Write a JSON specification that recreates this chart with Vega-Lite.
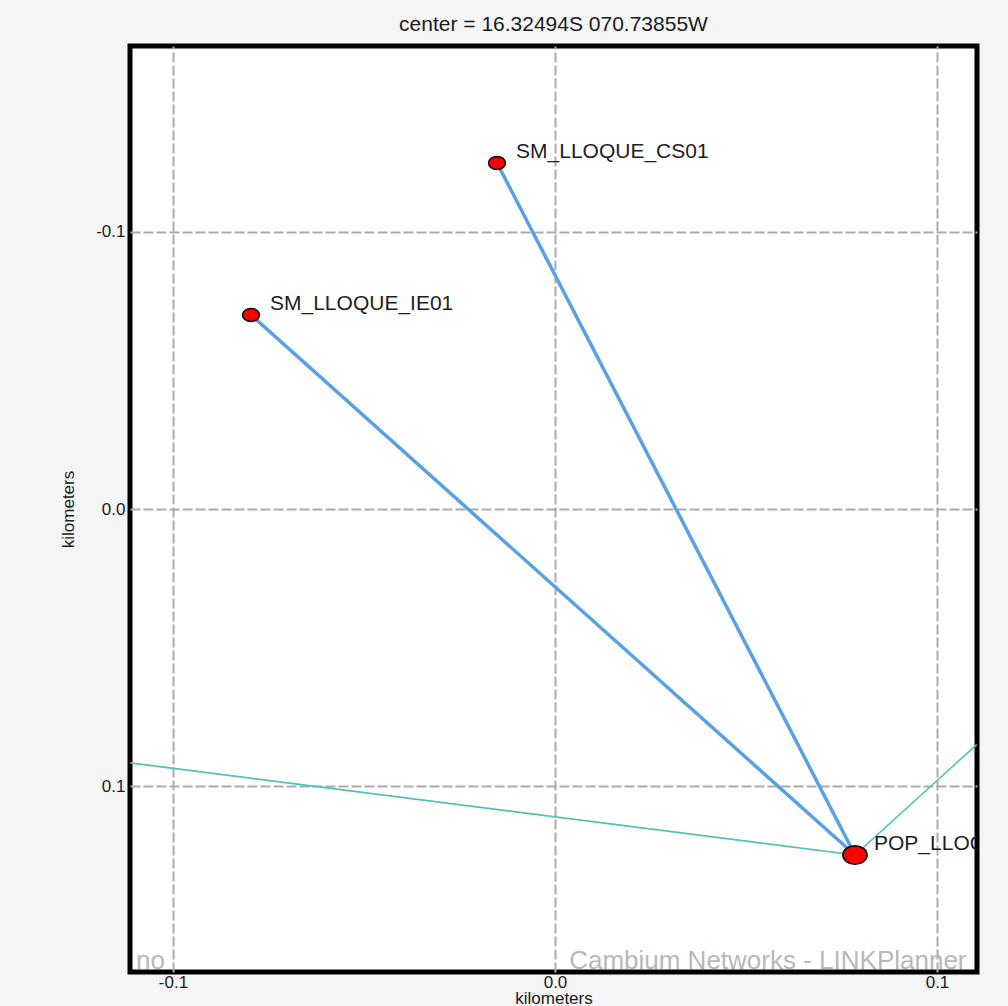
{
  "$schema": "https://vega.github.io/schema/vega-lite/v6.json",
  "autosize": "none",
  "width": 847,
  "height": 926,
  "padding": {"left": 130, "top": 46, "right": 31, "bottom": 34},
  "background": "#f5f5f5",
  "title": {
    "text": "center = 16.32494S 070.73855W",
    "font": "Liberation Sans",
    "fontSize": 21,
    "fontWeight": "normal",
    "color": "#1a1a1a",
    "anchor": "middle",
    "offset": 11
  },
  "config": {
    "view": {"stroke": "#000000", "strokeWidth": 5, "fill": "#ffffff"},
    "axis": {
      "grid": true,
      "gridColor": "#ababab",
      "gridWidth": 2,
      "gridDash": [10, 3],
      "domain": false,
      "ticks": false,
      "labelFont": "Liberation Sans",
      "labelFontSize": 17,
      "labelColor": "#1a1a1a",
      "titleFont": "Liberation Sans",
      "titleFontSize": 17,
      "titleFontWeight": "normal",
      "titleColor": "#1a1a1a"
    }
  },
  "datasets": {
    "links": [
      {"link": "CS01", "kind": "pmp", "seq": 1, "x": 0.07853, "y": 0.12468},
      {"link": "CS01", "kind": "pmp", "seq": 2, "x": -0.01518, "y": -0.12468},
      {"link": "IE01", "kind": "pmp", "seq": 1, "x": 0.07853, "y": 0.12468},
      {"link": "IE01", "kind": "pmp", "seq": 2, "x": -0.07958, "y": -0.06991},
      {"link": "west", "kind": "ptp", "seq": 1, "x": 0.07853, "y": 0.12468},
      {"link": "west", "kind": "ptp", "seq": 2, "x": -0.1112, "y": 0.0915},
      {"link": "east", "kind": "ptp", "seq": 1, "x": 0.07853, "y": 0.12468},
      {"link": "east", "kind": "ptp", "seq": 2, "x": 0.1104, "y": 0.0849}
    ],
    "nodes": [
      {"name": "SM_LLOQUE_CS01", "kind": "SM", "x": -0.01518, "y": -0.12468},
      {"name": "SM_LLOQUE_IE01", "kind": "SM", "x": -0.07958, "y": -0.06991},
      {"name": "POP_LLOQUE", "kind": "POP", "x": 0.07853, "y": 0.12468}
    ],
    "marks": [
      {"text": "Cambium Networks - LINKPlanner", "side": "right", "x": 0.0037, "y": 0.1656},
      {"text": "no", "side": "left", "x": -0.1021, "y": 0.1656}
    ]
  },
  "encoding": {
    "x": {
      "field": "x",
      "type": "quantitative",
      "scale": {"domain": [-0.11126, 0.11047], "nice": false, "zero": false},
      "axis": {
        "title": "kilometers",
        "values": [-0.1, 0, 0.1],
        "labelExpr": "replace(format(datum.value, '.1f'), '\u2212', '-')",
        "labelPadding": 2,
        "titleY": 31,
        "titleBaseline": "alphabetic"
      }
    },
    "y": {
      "field": "y",
      "type": "quantitative",
      "scale": {"domain": [-0.16685, 0.16685], "nice": false, "zero": false, "reverse": true},
      "axis": {
        "title": "kilometers",
        "values": [-0.1, 0, 0.1],
        "labelExpr": "replace(format(datum.value, '.1f'), '\u2212', '-')",
        "labelPadding": 5,
        "titlePadding": 18
      }
    }
  },
  "layer": [
    {
      "data": {"name": "marks"},
      "transform": [{"filter": "datum.side == 'right'"}],
      "mark": {"type": "text", "font": "Liberation Sans", "fontSize": 26, "color": "#b8b8b8", "align": "left", "baseline": "alphabetic", "clip": true},
      "encoding": {"text": {"field": "text"}}
    },
    {
      "data": {"name": "marks"},
      "transform": [{"filter": "datum.side == 'left'"}],
      "mark": {"type": "text", "font": "Liberation Sans", "fontSize": 26, "color": "#b8b8b8", "align": "right", "baseline": "alphabetic", "clip": true},
      "encoding": {"text": {"field": "text"}}
    },
    {
      "data": {"name": "links"},
      "mark": {"type": "line", "clip": true},
      "encoding": {
        "detail": {"field": "link"},
        "order": {"field": "seq"},
        "color": {"field": "kind", "type": "nominal", "scale": {"domain": ["pmp", "ptp"], "range": ["#5aa0e6", "#4fc2b4"]}, "legend": null},
        "strokeWidth": {"field": "kind", "type": "nominal", "scale": {"domain": ["pmp", "ptp"], "range": [3.5, 1.6]}, "legend": null}
      }
    },
    {
      "data": {"name": "nodes"},
      "mark": {
        "type": "point",
        "filled": true,
        "fill": "#ff0000",
        "stroke": "#000000",
        "strokeWidth": 1.5,
        "opacity": 1,
        "shape": "M -1.3 0 A 1.3 1 0 1 0 1.3 0 A 1.3 1 0 1 0 -1.3 0 Z"
      },
      "encoding": {
        "size": {"field": "kind", "type": "nominal", "scale": {"domain": ["SM", "POP"], "range": [169, 346]}, "legend": null}
      }
    },
    {
      "data": {"name": "nodes"},
      "mark": {"type": "text", "font": "Liberation Sans", "fontSize": 21, "color": "#1e1e1e", "align": "left", "baseline": "middle", "dx": 19, "dy": -11, "clip": true},
      "encoding": {
        "text": {"field": "name"}
      }
    }
  ]
}
